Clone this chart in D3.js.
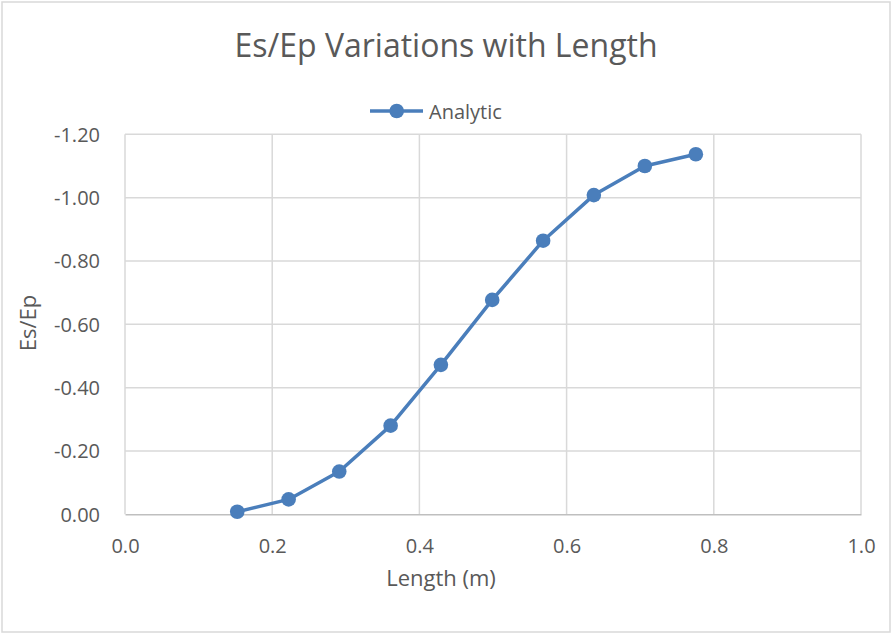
<!DOCTYPE html>
<html>
<head>
<meta charset="utf-8">
<script src="https://cdn.jsdelivr.net/npm/d3@7"></script>
<style>
  html, body { margin: 0; padding: 0; background: #fff; }
  svg { display: block; }
  text { font-family: "Open Sans", "Noto Sans", sans-serif; fill: #595959; }
</style>
</head>
<body>
<svg id="chart" width="892" height="634"></svg>
<script>
// Es/Ep ratio against member length (analytic solution)
const lengths = [0.1525, 0.2223, 0.2911, 0.3609, 0.4292, 0.4989, 0.5681, 0.6370, 0.7063, 0.7756];
const esEp    = [-0.008, -0.047, -0.135, -0.280, -0.472, -0.677, -0.864, -1.008, -1.100, -1.137];
const xTicks = [0, 0.2, 0.4, 0.6, 0.8, 1.0];
const yTicks = [0, -0.2, -0.4, -0.6, -0.8, -1.0, -1.2];
const seriesName = "Analytic";
const chartTitle = "Es/Ep Variations with Length";
const xTitle = "Length (m)";
const yTitle = "Es/Ep";

const blue = "#4a7ebb";
const svg = d3.select("#chart");

// plain hyphen for negative numbers
const fmt = p => d => d3.format(p)(d).replace("\u2212", "-");

// outer chart frame
svg.append("rect")
  .attr("x", 2).attr("y", 2).attr("width", 888).attr("height", 630)
  .attr("fill", "#fff").attr("stroke", "#d9d9d9").attr("stroke-width", 1.5);

const plot = { left: 125, right: 861, top: 134.3, bottom: 514.3 };

const x = d3.scaleLinear().domain([0, 1]).range([plot.left, plot.right]);
// axis runs from 0 at the bottom to -1.2 at the top
const y = d3.scaleLinear().domain([0, -1.2]).range([plot.bottom, plot.top]);

// gridlines
const grid = svg.append("g");
grid.selectAll("line.h").data(yTicks.filter(d => d !== 0)).join("line")
  .attr("x1", plot.left).attr("x2", plot.right)
  .attr("y1", d => y(d)).attr("y2", d => y(d))
  .attr("stroke", "#d9d9d9").attr("stroke-width", 1.5);
grid.selectAll("line.v").data(xTicks).join("line")
  .attr("x1", d => x(d)).attr("x2", d => x(d))
  .attr("y1", plot.top).attr("y2", plot.bottom)
  .attr("stroke", "#d9d9d9").attr("stroke-width", 1.5);

// x axis
const xAxis = svg.append("g")
  .attr("transform", `translate(0,${plot.bottom})`)
  .call(d3.axisBottom(x).tickValues(xTicks).tickFormat(fmt(".1f")).tickSize(0).tickPadding(32));
xAxis.select(".domain").attr("stroke", "#bfbfbf").attr("stroke-width", 1.5);
xAxis.selectAll("text").attr("font-size", 20).attr("fill", "#595959")
  .style("font-family", "'Open Sans', sans-serif").attr("dy", "0.35em");

// y axis
const yAxis = svg.append("g")
  .attr("transform", `translate(${plot.left},0)`)
  .call(d3.axisLeft(y).tickValues(yTicks).tickFormat(fmt(".2f")).tickSize(0).tickPadding(25));
yAxis.select(".domain").remove();
yAxis.selectAll("text").attr("font-size", 20).attr("fill", "#595959")
  .style("font-family", "'Open Sans', sans-serif").attr("dy", "0.35em");

// series line and markers
const pts = lengths.map((l, i) => [l, esEp[i]]);
svg.append("path")
  .datum(pts)
  .attr("fill", "none")
  .attr("stroke", blue)
  .attr("stroke-width", 3.5)
  .attr("stroke-linejoin", "round")
  .attr("d", d3.line().x(d => x(d[0])).y(d => y(d[1])));
svg.append("g").selectAll("circle").data(pts).join("circle")
  .attr("cx", d => x(d[0])).attr("cy", d => y(d[1]))
  .attr("r", 7.3).attr("fill", blue);

// title
svg.append("text")
  .attr("x", 446).attr("y", 57)
  .attr("text-anchor", "middle")
  .attr("font-size", 32)
  .text(chartTitle);

// legend
const lg = svg.append("g");
lg.append("line").attr("x1", 370).attr("x2", 423).attr("y1", 111).attr("y2", 111)
  .attr("stroke", blue).attr("stroke-width", 3.5);
lg.append("circle").attr("cx", 396.7).attr("cy", 111).attr("r", 7.3).attr("fill", blue);
lg.append("text").attr("x", 429).attr("y", 119).attr("font-size", 20).text(seriesName);

// axis titles
svg.append("text")
  .attr("x", 441).attr("y", 586)
  .attr("text-anchor", "middle")
  .attr("font-size", 22)
  .text(xTitle);
svg.append("text")
  .attr("transform", "translate(36,323) rotate(-90)")
  .attr("text-anchor", "middle")
  .attr("font-size", 22)
  .text(yTitle);
</script>
</body>
</html>
